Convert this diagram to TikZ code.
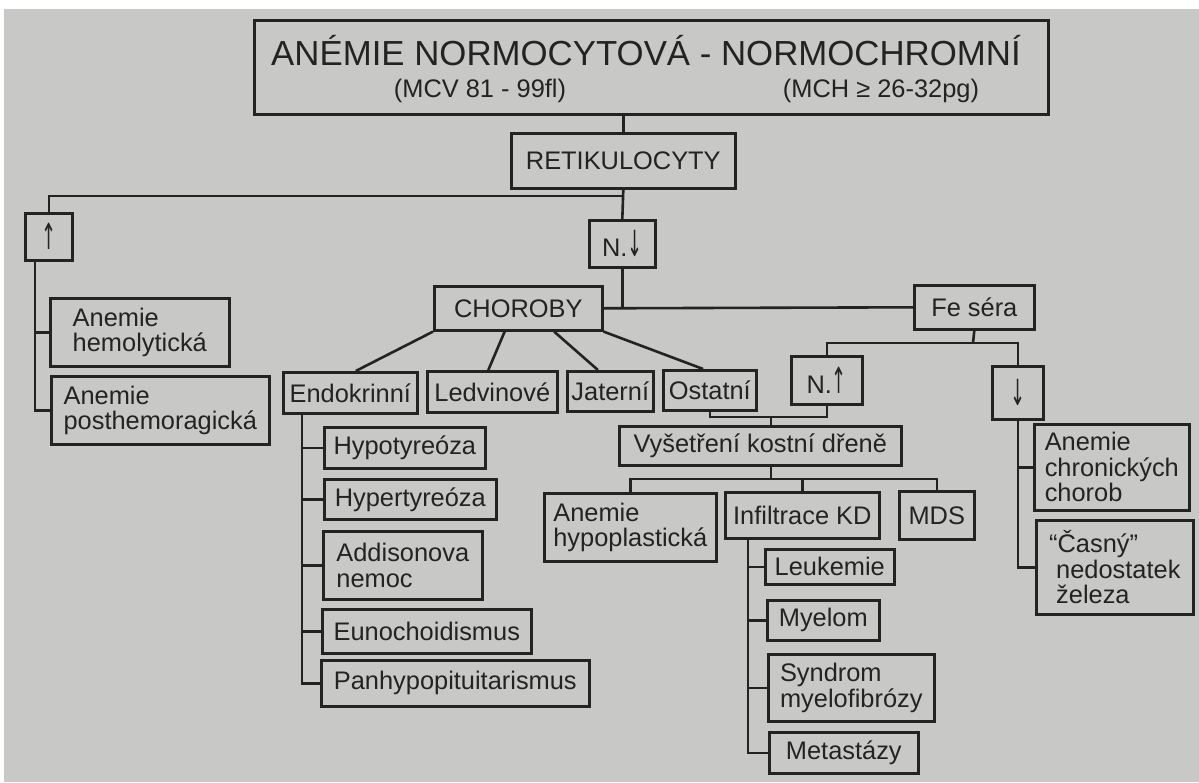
\documentclass[tikz,border=0pt]{standalone}
\usepackage{fontspec}
\usepackage{graphicx}
\setmainfont{Liberation Sans}
\newfontfamily\arrfont{DejaVu Sans}
\usetikzlibrary{calc}

\definecolor{paper}{RGB}{200,200,198}
\definecolor{ink}{RGB}{35,35,35}
\newcommand{\bigarr}[1]{\scalebox{0.5}[1]{\fontsize{18}{18}\arrfont #1}}

\begin{document}
\begin{tikzpicture}[
  x=0.5pt, y=-0.5pt,
  font=\fontsize{12.7}{12.7}\selectfont,
  box/.style={draw=ink, line width=1.3pt, fill=paper, text=ink, anchor=north west, inner sep=0pt, align=left},
  wh/.style 2 args={minimum width=#1*0.5pt, minimum height=#2*0.5pt},
  lbl/.style={text=ink, inner sep=0pt, anchor=base},
  link/.style={draw=ink, line width=1.3pt}
]
\useasboundingbox (0,0) rectangle (1199,782);
\fill[white] (0,0) rectangle (1199,782);
\fill[paper] (4,9) rectangle (1199,782);

% header
\node[box, wh={794}{94}] (title) at (253,19) {};
\node[lbl, font=\fontsize{17.4}{20}\selectfont] (ttl) at (646,65) {ANÉMIE NORMOCYTOVÁ - NORMOCHROMNÍ};
\node[lbl] (mcv) at (480,97) {(MCV 81 - 99fl)};
\node[lbl] (mch) at (881,97) {(MCH ≥ 26-32pg)};

\node[box, wh={224}{55}] (reti) at (510,132) {RETIKULOCYTY};
\node[box, wh={47}{47}] (up) at (24,212) {\bigarr{↑}};
\node[box, wh={66}{47}] (ndown) at (588,219) {N.\bigarr{↓}};
\node[box, wh={168}{44}] (chor) at (433,285) {CHOROBY};
\node[box, wh={120}{44}] (fe) at (913,284) {Fe séra};

% left branch
\node[box, wh={179}{68}] (hemo) at (49,297) {Anemie\\hemolytická};
\node[box, wh={218}{68}] (post) at (50,375) {Anemie\\posthemoragická};

% choroby
\node[box, wh={134}{41}] (endo) at (282,371) {Endokrinní};
\node[box, wh={130}{41}] (ledv) at (426,370) {Ledvinové};
\node[box, wh={86}{40}] (jat) at (566,370) {Jaterní};
\node[box, wh={93}{40}] (ost) at (662,369) {Ostatní};

\node[box, wh={161}{41}] (hypo) at (323,426) {Hypotyreóza};
\node[box, wh={172}{40}] (hyper) at (323,478) {Hypertyreóza};
\node[box, wh={159}{68}] (addis) at (322,530) {Addisonova\\nemoc};
\node[box, wh={209}{44}] (eunoch) at (321,608) {Eunochoidismus};
\node[box, wh={268}{46}] (panhyp) at (320,659) {Panhypopituitarismus};

% fe sera
\node[box, wh={71}{48}] (nup) at (790,355) {N.\bigarr{↑}};
\node[box, wh={51}{53}] (fdown) at (991,365) {\bigarr{↓}};
\node[box, wh={155}{86}] (chron) at (1033,423) {Anemie\\chronických\\chorob};
\node[box, wh={157}{94}] (casny) at (1035,519) {“Časný”\\\ nedostatek\\\ železa};

% kostni dren
\node[box, wh={282}{39}] (kd) at (618,425) {Vyšetření kostní dřeně};
\node[box, wh={172}{68}] (hypopl) at (543,492) {Anemie\\hypoplastická};
\node[box, wh={154}{46}] (infil) at (724,491) {Infiltrace KD};
\node[box, wh={75}{48}] (mds) at (898,490) {MDS};
\node[box, wh={129}{35}] (leuk) at (764,548) {Leukemie};
\node[box, wh={112}{40}] (myel) at (766,599) {Myelom};
\node[box, wh={166}{67}] (syndr) at (767,653) {Syndrom\\myelofibrózy};
\node[box, wh={149}{41}] (meta) at (768,731) {Metastázy};

% junctions
\coordinate (split) at (622,196);
\coordinate (ubar) at (35,0);
\coordinate (ebar) at (302,0);
\coordinate (fsplit) at (973,343);
\coordinate (kdj) at (771,417);
\coordinate (kdb) at (771,479);
\coordinate (ibar) at (748,0);

\draw[link] (reti.north) -- (reti.north |- title.south);
\draw[link] (reti.south) -- (ndown.north);
\draw[link] (split) -| (up.north);
\draw[link] (ndown.south) -- (ndown.south |- chor.east);
\draw[link] (chor.east) -- (fe.west);

\draw[link] (ubar |- up.south) |- (post.west);
\draw[link] (ubar |- hemo.west) -- (hemo.west);

\draw[link] (chor.south west) -- ($(endo.north west)!0.54!(endo.north east)$);
\draw[link] ($(chor.south west)!0.42!(chor.south east)$) -- ($(ledv.north west)!0.47!(ledv.north east)$);
\draw[link] ($(chor.south west)!0.71!(chor.south east)$) -- ($(jat.north west)!0.36!(jat.north east)$);
\draw[link] (chor.south east) -- ($(ost.north west)!0.43!(ost.north east)$);

\draw[link] (ebar |- endo.south) |- (panhyp.west);
\foreach \n in {hypo,hyper,addis,eunoch}
  \draw[link] (ebar |- \n.west) -- (\n.west);

\draw[link] (fe.south) -- (fsplit);
\draw[link] (nup.north) |- (fsplit) -| (fdown.north);
\draw[link] (fdown.south) |- (casny.west);
\draw[link] (fdown.south |- chron.west) -- (chron.west);

\draw[link] (ost.south) |- (kdj) -| (nup.south);
\draw[link] (kdj) -- (kdj |- kd.north);
\draw[link] (kdj |- kd.south) -- (kdb);
\draw[link] (hypopl.north) |- (kdb) -| (mds.north);
\draw[link] (infil.north) -- (infil.north |- kdb);

\draw[link] (ibar |- infil.south) |- (meta.west);
\foreach \n in {leuk,myel,syndr}
  \draw[link] (ibar |- \n.west) -- (\n.west);

\end{tikzpicture}
\end{document}
